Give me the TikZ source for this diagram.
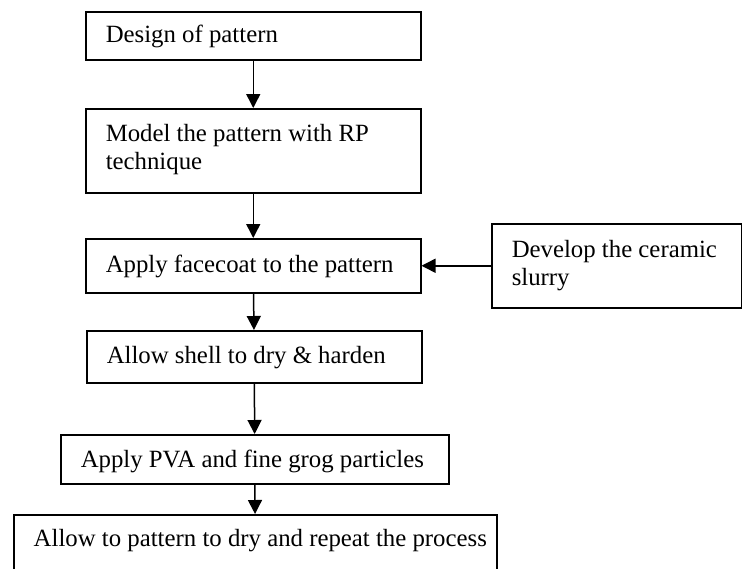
\documentclass[tikz,border=0pt]{standalone}
\usepackage{fontspec}
\setmainfont{Liberation Serif}
\usetikzlibrary{arrows.meta}
\begin{document}
\begin{tikzpicture}[x=1pt,y=-1pt,
  stepbox/.style={draw, line width=1.5pt, inner xsep=0pt, inner ysep=0pt,
    anchor=north west, font=\fontsize{24.8}{28}\selectfont,
    execute at begin node={\raggedright\leftskip=20pt\spaceskip=0pt\xspaceskip=0pt}},
  flow/.style={-{Triangle[width=14pt,length=14pt]}, line width=1.5pt}]
\useasboundingbox (0,0) rectangle (742,568);
\node[stepbox, text width=335pt, text height=31pt, text depth=17pt] (design) at (85,11) {Design of pattern};
\node[stepbox, text width=335pt, text height=33pt, text depth=51pt] (model) at (85,108) {Model the pattern with RP\\technique};
\node[stepbox, text width=335pt, text height=34pt, text depth=20pt] (facecoat) at (85,238) {Apply facecoat to the pattern};
\node[stepbox, text width=250pt, text height=34pt, text depth=50pt] (slurry) at (491,223) {Develop the ceramic\\slurry};
\node[stepbox, text width=335pt, text height=33pt, text depth=19pt] (shell) at (86,330) {Allow shell to dry \& harden};
\node[stepbox, text width=388pt, text height=33pt, text depth=16pt] (pva) at (60,434) {Apply PVA and fine grog particles};
\node[stepbox, text width=483pt, text height=32pt, text depth=40pt] (repeat) at (13,514) {Allow to pattern to dry and repeat the process};
\draw[flow] (design) -- (model);
\draw[flow] (model) -- (facecoat);
\draw[flow] (slurry) -- (facecoat);
\draw[flow] (facecoat) -- (shell);
\draw[flow] (shell) -- (pva);
\draw[flow] (pva) -- (repeat);
\end{tikzpicture}
\end{document}
